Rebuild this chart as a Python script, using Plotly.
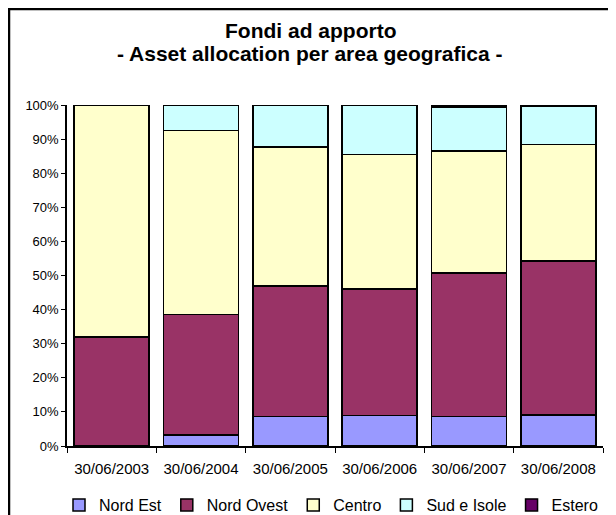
import plotly.graph_objects as go

categories = ["30/06/2003", "30/06/2004", "30/06/2005", "30/06/2006", "30/06/2007", "30/06/2008"]
nord_est = [0.0, 3.2, 8.7, 9.0, 8.6, 9.1]
nord_ovest = [32.0, 35.3, 38.2, 37.0, 42.1, 45.2]
centro = [68.0, 54.0, 40.8, 39.5, 35.8, 34.1]
sud_isole = [0.0, 7.5, 12.3, 14.5, 12.9, 11.1]
estero = [0.0, 0.0, 0.0, 0.0, 0.6, 0.5]

series = [
    ("Nord Est", nord_est, "#9999FF"),
    ("Nord Ovest", nord_ovest, "#993366"),
    ("Centro", centro, "#FFFFCC"),
    ("Sud e Isole", sud_isole, "#CCFFFF"),
    ("Estero", estero, "#660066"),
]

fig = go.Figure()
for name, vals, col in series:
    fig.add_trace(go.Bar(
        x=categories, y=vals, name=name,
        marker=dict(color=col, line=dict(color="black", width=1.5)),
    ))

font_family = "Liberation Sans, Arial, sans-serif"
L, T, R, B = 59, 97, 21, 77
W, H = 616, 515
pw, ph = W - L - R, H - T - B

fig.update_layout(
    barmode="stack",
    bargap=0.16,
    width=W, height=H,
    margin=dict(l=L, r=R, t=T, b=B, autoexpand=False),
    paper_bgcolor="white",
    plot_bgcolor="white",
    font=dict(family=font_family, size=13, color="black"),
    showlegend=True,
    legend=dict(orientation="h", xref="paper", x=(51 - L) / pw, xanchor="left",
                yref="paper", y=(ph + T - 497) / ph, yanchor="middle",
                font=dict(size=16), traceorder="normal", itemwidth=30),
    xaxis=dict(showline=True, linecolor="black", linewidth=1.5,
               ticks="outside", tickson="boundaries", ticklen=5, tickcolor="black",
               tickfont=dict(size=15), showgrid=False, range=[-0.5, 5.5],
               ticklabelstandoff=8, automargin=False),
    yaxis=dict(range=[0, 100], dtick=10, ticksuffix="%", showline=True,
               linecolor="black", linewidth=1.5, ticks="outside", ticklen=4,
               tickcolor="black", showgrid=False, zeroline=False,
               tickfont=dict(size=13), automargin=False),
    annotations=[
        dict(text="<b>Fondi ad apporto</b>", x=(302 - L) / pw, xref="paper",
             y=(ph + T - 23) / ph, yref="paper",
             xanchor="center", yanchor="middle", showarrow=False,
             font=dict(size=21, family=font_family)),
        dict(text="<b>- Asset allocation per area geografica -</b>", x=(302 - L) / pw,
             xref="paper", y=(ph + T - 46) / ph, yref="paper",
             xanchor="center", yanchor="middle", showarrow=False,
             font=dict(size=21, family=font_family)),
    ],
    shapes=[
        dict(type="rect", xref="paper", yref="paper",
             x0=(1 - L) / pw, x1=(W + 20 - L) / pw, y0=-(B + 20) / ph, y1=(ph + T - 1) / ph,
             line=dict(color="black", width=2.5), fillcolor="rgba(0,0,0,0)", layer="below"),
    ],
)

fig.write_html("out.html")
